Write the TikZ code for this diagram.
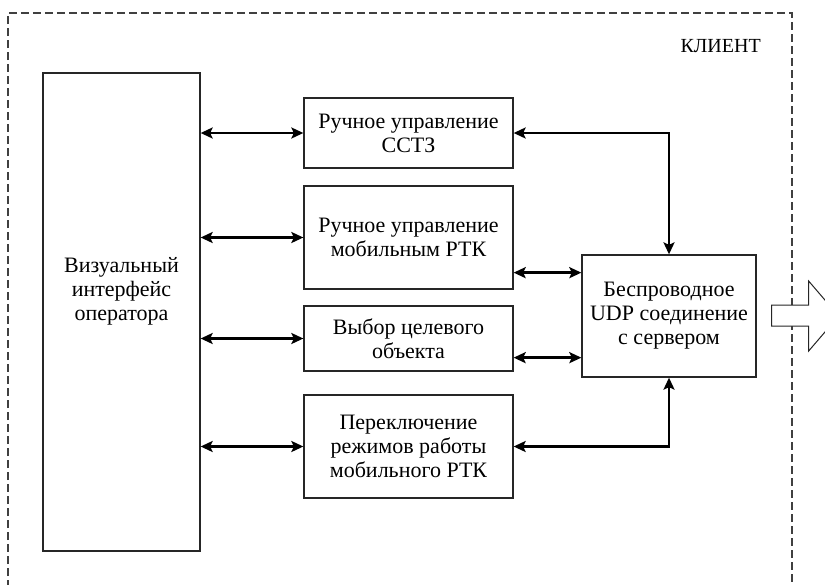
\documentclass[tikz,border=0pt]{standalone}
\usepackage{fontspec}
\setmainfont{Liberation Serif}
\usetikzlibrary{arrows.meta}
\begin{document}
\begin{tikzpicture}[x=1pt,y=-1pt,
  txt/.style={align=center, inner sep=0pt, font=\fontsize{22}{24}\selectfont},
  block/.style={txt, draw=black!85, line width=1.3pt, fill=white},
  tip/.tip={Stealth[length=12pt,width=11pt,inset=2.5pt]},
  link/.style={line width=2.6pt, black, tip-tip},
  frame/.style={draw=black!75, line width=1.2pt, dash pattern=on 8pt off 4pt},
  outarrow/.style={draw=black!85, line width=1pt, fill=white, line join=miter}
]
\useasboundingbox (0,0) rectangle (825,584);

% client boundary
\draw[frame] (8,600) -- (8,13) -- (792,13) -- (792,600);
\node[txt, font=\fontsize{20}{24}\selectfont, anchor=east] (client) at (761,46) {КЛИЕНТ};

% operator interface
\node[block, minimum width=157pt, minimum height=478pt] (lbox) at (121.5,312) {};
\node[txt] (ltext) at (121.5,291) {Визуальный\\интерфейс\\оператора};

% function blocks
\node[block, minimum width=209pt, minimum height=70pt] (b1) at (408.5,133) {Ручное управление\\ССТЗ};
\node[block, minimum width=209pt, minimum height=103pt] (b2) at (408.5,237.5) {Ручное управление\\мобильным РТК};
\node[block, minimum width=209pt, minimum height=65pt] (b3) at (408.5,338.5) {Выбор целевого\\объекта};
\node[block, minimum width=209pt, minimum height=103pt] (b4) at (408.5,446.5) {Переключение\\режимов работы\\мобильного РТК};

% server connection
\node[block, minimum width=174pt, minimum height=122pt] (srv) at (669,316) {Беспроводное\\UDP соединение\\с сервером};

% operator links
\draw[link] (lbox.east |- b1) -- (b1.west);
\draw[link] (lbox.east |- b2) -- (b2.west);
\draw[link] (lbox.east |- b3) -- (b3.west);
\draw[link] (lbox.east |- b4) -- (b4.west);

% links to the server block
\draw[link] (b1.east) -| (srv.north);
\draw[link] ([yshift=17pt]b2.south east) coordinate (p2) -- (p2 -| srv.west);
\draw[link] ([yshift=14pt]b3.south east) coordinate (p3) -- (p3 -| srv.west);
\draw[link] (b4.east) -| (srv.south);

% outgoing block arrow
\draw[outarrow] ([xshift=15pt,yshift=11pt]srv.east) coordinate (a0)
  -- ++(37,0) -- ++(0,-24) -- ++(30,35) -- ++(-30,35) -- ++(0,-25) -- ++(-37,0) -- cycle;
\end{tikzpicture}
\end{document}
